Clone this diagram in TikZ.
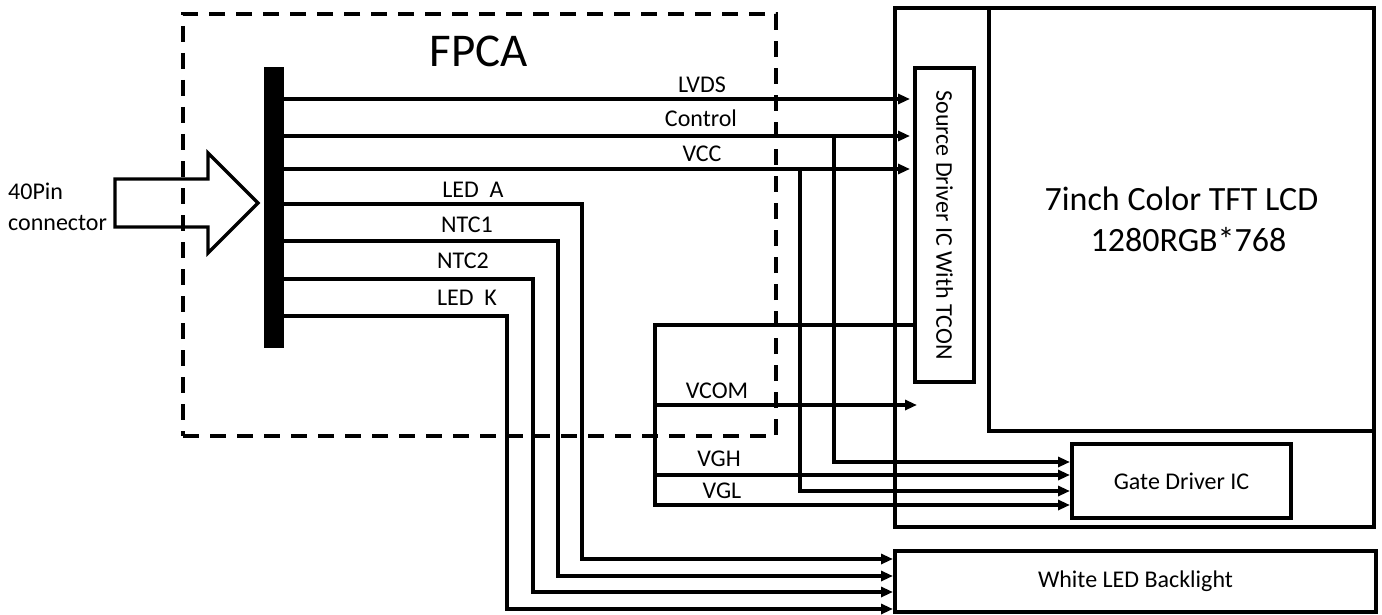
\documentclass[tikz,border=0pt]{standalone}
\usepackage{fontspec}
\setmainfont{Carlito}
\usetikzlibrary{arrows.meta,calc}
\begin{document}
\begin{tikzpicture}[x=1pt,y=-1pt,
  wire/.style={line width=3.3pt},
  sig/.style={line width=3.3pt,-{Triangle[length=12pt,width=10pt]}},
  blk/.style={draw,line width=3.3pt,inner sep=0pt,outer sep=0pt,font=\fontsize{24}{29}\selectfont},
  lbl/.style={font=\fontsize{24}{29}\selectfont,anchor=base,inner sep=0pt}]
\useasboundingbox (0,0) rectangle (1382,615);

% FPCA dashed frame
\node[blk, dash pattern=on 16pt off 11pt, minimum width=593pt, minimum height=422pt] (fpca) at (479.5,225) {};
\node[anchor=base, font=\fontsize{47}{56}\selectfont, inner sep=0pt] (fpcat) at (479,67) {FPCA};

% connector bar and big arrow
\node[fill=black, inner sep=0pt, outer sep=0pt, minimum width=20pt, minimum height=281pt] (bar) at (274,207.5) {};
\draw[wire, line join=miter] (115,179) -- (208,179) -- (208,153) -- (258,203) -- (208,253) -- (208,227) -- (115,227) -- cycle;
\node[lbl, anchor=base west] (pin1) at (8,200) {40Pin};
\node[lbl, anchor=base west] (pin2) at (8,230) {connector};

% right blocks
\node[blk, minimum width=479pt, minimum height=519pt] (lcm) at (1134.5,267.5) {};
\node[blk, minimum width=385pt, minimum height=423pt] (lcd) at (1181.5,219.5) {};
\node[align=center, font=\fontsize{34}{41}\selectfont] (lcdt) at (lcd.center) {7inch Color TFT LCD\\\hspace*{14pt}1280RGB*768};
\node[blk, minimum width=59pt, minimum height=314pt] (src) at (944.5,225) {};
\node[rotate=-90, font=\fontsize{24}{29}\selectfont, inner sep=0pt] (srct) at (src.center) {Source Driver IC With TCON};
\node[blk, minimum width=219pt, minimum height=74pt] (gate) at (1181.5,481) {Gate Driver IC};
\node[blk, minimum width=481pt, minimum height=61pt] (back) at (1135.5,581.5) {White LED Backlight};

% junctions
\coordinate (jc) at (834,136);
\coordinate (jv) at (800,169);
\coordinate (tc) at (655,325);
\coordinate (vcomend) at (917,405);

% signals to source driver
\draw[sig, shorten >=5pt] (bar.east |- 0,99) -- (src.west |- 0,99);
\draw[sig, shorten >=5pt] (bar.east |- 0,136) -- (src.west |- 0,136);
\draw[sig, shorten >=5pt] (bar.east |- 0,169) -- (src.west |- 0,169);

% to gate driver
\draw[sig, shorten >=2pt] (jc) |- (gate.west |- 0,462);
\draw[sig, shorten >=2pt] (jv) |- (gate.west |- 0,491);
\draw[sig, shorten >=2pt] (src.west |- tc) -- (tc) |- (gate.west |- 0,505);
\draw[sig, shorten >=2pt] (tc |- 0,475) -- (gate.west |- 0,475);
\draw[sig] (tc |- 0,405) -- (vcomend);

% backlight
\draw[sig, shorten >=2pt] (bar.east |- 0,204) -| (582,559) -- (back.west |- 0,559);
\draw[sig, shorten >=2pt] (bar.east |- 0,241) -| (558,576) -- (back.west |- 0,576);
\draw[sig, shorten >=2pt] (bar.east |- 0,279) -| (533,592) -- (back.west |- 0,592);
\draw[sig, shorten >=2pt] (bar.east |- 0,316) -| (507,609) -- (back.west |- 0,609);

% labels
\node[lbl] (l1) at (702,93) {LVDS};
\node[lbl] (l2) at (701,127) {Control};
\node[lbl] (l3) at (702,162) {VCC};
\node[lbl] (l4) at (473,197) {LED\ \ A};
\node[lbl] (l5) at (467,232) {NTC1};
\node[lbl] (l6) at (463,268) {NTC2};
\node[lbl] (l7) at (467,305) {LED\ \ K};
\node[lbl] (l8) at (717,398) {VCOM};
\node[lbl] (l9) at (719,466) {VGH};
\node[lbl] (l10) at (722,498) {VGL};
\end{tikzpicture}
\end{document}
